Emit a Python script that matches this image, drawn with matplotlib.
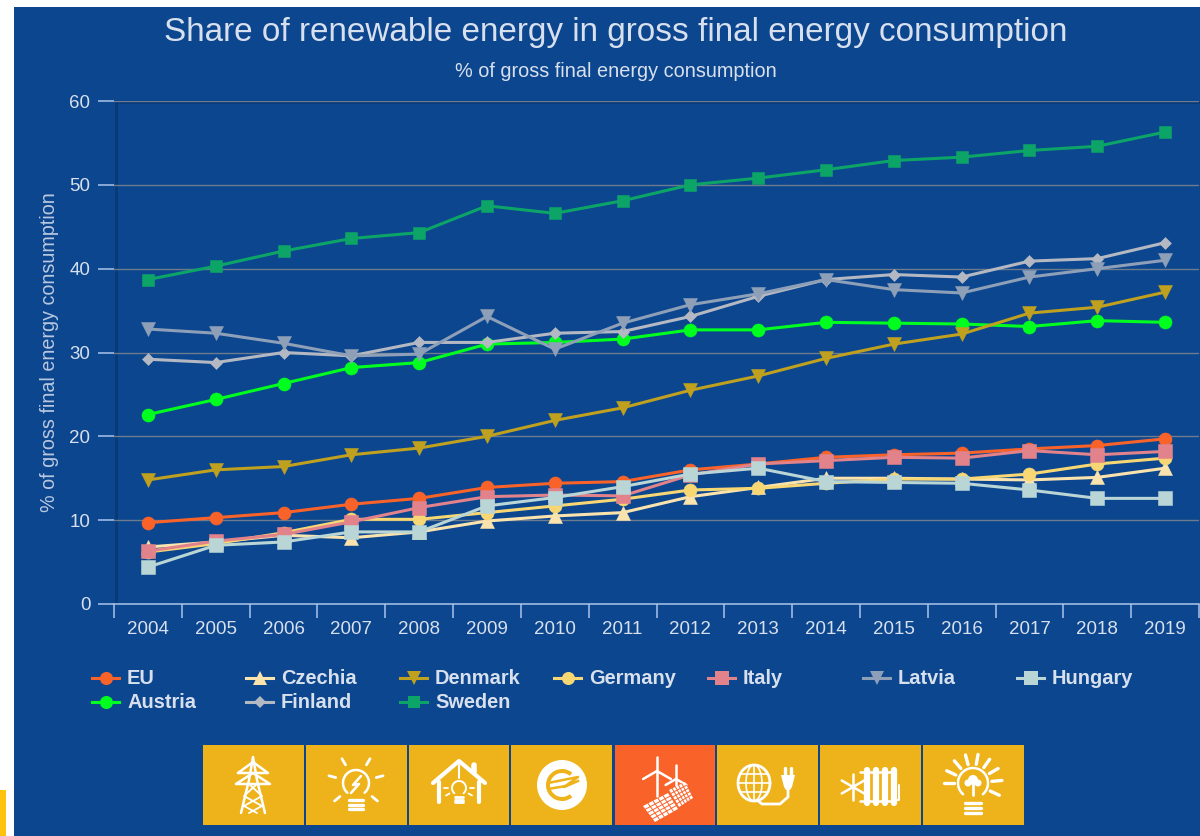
import numpy as np
import matplotlib
matplotlib.use('Agg')
import matplotlib.pyplot as plt
from matplotlib.lines import Line2D
from matplotlib.patches import Rectangle, Circle, Polygon, Wedge

plt.rcParams['font.family'] = ['Liberation Sans', 'DejaVu Sans']

years = list(range(2004, 2020))
eu = [9.7, 10.3, 10.9, 11.9, 12.6, 13.9, 14.4, 14.6, 16.0, 16.7, 17.5, 17.8, 18.0, 18.5, 18.9, 19.7]
austria = [22.6, 24.4, 26.3, 28.2, 28.8, 31.0, 31.2, 31.6, 32.7, 32.7, 33.6, 33.5, 33.4, 33.1, 33.8, 33.6]
czechia = [6.8, 7.4, 8.2, 7.9, 8.6, 9.9, 10.5, 10.9, 12.8, 13.9, 15.0, 15.0, 14.9, 14.8, 15.1, 16.2]
finland = [29.2, 28.8, 30.0, 29.6, 31.2, 31.2, 32.3, 32.5, 34.3, 36.7, 38.7, 39.3, 39.0, 40.9, 41.2, 43.1]
denmark = [14.8, 16.0, 16.4, 17.8, 18.6, 20.0, 21.9, 23.4, 25.5, 27.2, 29.3, 31.0, 32.2, 34.7, 35.4, 37.2]
sweden = [38.7, 40.3, 42.1, 43.6, 44.3, 47.5, 46.6, 48.1, 50.0, 50.8, 51.8, 52.9, 53.3, 54.1, 54.6, 56.3]
germany = [6.2, 7.2, 8.5, 10.1, 10.1, 10.9, 11.7, 12.5, 13.6, 13.8, 14.4, 14.9, 14.9, 15.5, 16.7, 17.4]
italy = [6.3, 7.5, 8.3, 9.8, 11.5, 12.8, 13.0, 12.9, 15.4, 16.7, 17.1, 17.5, 17.4, 18.3, 17.8, 18.2]
latvia = [32.8, 32.3, 31.1, 29.6, 29.8, 34.3, 30.4, 33.5, 35.7, 37.0, 38.7, 37.5, 37.1, 39.0, 40.0, 41.0]
hungary = [4.4, 7.0, 7.4, 8.6, 8.6, 11.7, 12.7, 14.0, 15.5, 16.2, 14.6, 14.5, 14.4, 13.6, 12.6, 12.6]

# name, values, colour, marker, marker size, legend column, legend row
series = [
    ('EU', eu, '#F9632A', 'o', 9.4, 0, 0),
    ('Austria', austria, '#00FF1E', 'o', 9.4, 0, 1),
    ('Czechia', czechia, '#FBE3AE', '^', 10, 1, 0),
    ('Finland', finland, '#B4B8C2', 'D', 6.4, 1, 1),
    ('Denmark', denmark, '#BFA01F', 'v', 10, 2, 0),
    ('Sweden', sweden, '#0CA567', 's', 8.8, 2, 1),
    ('Germany', germany, '#F7D774', 'o', 9.4, 3, 0),
    ('Italy', italy, '#E2828A', 's', 9.6, 4, 0),
    ('Latvia', latvia, '#8E9FB8', 'v', 10, 5, 0),
    ('Hungary', hungary, '#BAD5D5', 's', 9.6, 6, 0),
]

W, H = 1200, 836
BLUE = '#0B468F'
TEXT = '#D8E0ED'
TICK = '#A9C4EA'

fig = plt.figure(figsize=(W / 100, H / 100), dpi=100, facecolor='white')

# pixel canvas for background, legend and icons
bg = fig.add_axes([0, 0, 1, 1], zorder=0)
bg.set_xlim(0, W)
bg.set_ylim(H, 0)
bg.axis('off')
bg.add_patch(Rectangle((14, 7), W - 14, H - 7, fc=BLUE, ec='none'))
bg.add_patch(Rectangle((0, 790), 6, 46, fc='#FFC20E', ec='none'))

ax = fig.add_axes([114 / W, 1 - 604 / H, 1085 / W, 503 / H], zorder=1)
ax.patch.set_alpha(0)
x = np.arange(len(years))
for name, vals, col, mk, ms, c, r in series:
    ax.plot(x, vals, color=col, lw=2.2, marker=mk, ms=ms, mec=col, mew=0.4, clip_on=False, zorder=3)

ax.set_xlim(-0.5, len(years) - 0.5)
ax.set_ylim(0, 60)
ax.set_yticks([0, 10, 20, 30, 40, 50, 60])
ax.set_xticks(x)
ax.set_xticklabels(years)
ax.set_xticks(np.arange(-0.5, len(years)), minor=True)
ax.grid(axis='y', color='#6C7C8E', lw=1.0, zorder=1)
ax.set_axisbelow(True)
ax.tick_params(axis='y', colors=TEXT, labelsize=13.5, length=11.5, width=1.1, color=TICK, pad=5.5)
ax.tick_params(axis='x', which='major', length=0, colors=TEXT, labelsize=13.5, pad=12.5)
ax.tick_params(axis='x', which='minor', length=10, width=1.1, color=TICK)
for s in ['top', 'right', 'left']:
    ax.spines[s].set_visible(False)
ax.spines['bottom'].set_color(TICK)
ax.spines['bottom'].set_linewidth(1.1)
ax.set_ylabel('% of gross final energy consumption', color='#B9C8DF', fontsize=14.2)
ax.yaxis.set_label_coords(-0.0505, 0.5)

# soft shadow along the plot frame
bg.plot([116, 116], [102, 603], color='#08356F', lw=2, alpha=0.8)
bg.plot([116, W], [102.5, 102.5], color='#08356F', lw=1.2, alpha=0.8)

fig.text(616 / W, 1 - 32 / H, 'Share of renewable energy in gross final energy consumption',
         color=TEXT, fontsize=23.95, ha='center', va='center')
fig.text(616 / W, 1 - 71.5 / H, '% of gross final energy consumption',
         color=TEXT, fontsize=14.3, ha='center', va='center')

# legend
leg_x = [92, 246, 400, 554, 708, 863, 1017]
leg_y = [678, 702]
for name, vals, col, mk, ms, c, r in series:
    lx = leg_x[c]
    ly = leg_y[r]
    bg.add_line(Line2D([lx, lx + 27], [ly, ly], color=col, lw=2.2))
    bg.add_line(Line2D([lx + 13.5], [ly], color=col, marker=mk, ms=ms, mew=0))
    bg.text(lx + 35, ly + 1, name, color=TEXT, fontsize=14.4, fontweight='bold', va='center', ha='left')

# icon tiles
tiles = [(203, 304), (306, 407), (409, 509), (511, 612), (615, 715), (717, 818), (820, 921), (923, 1024)]
for i, (a, b) in enumerate(tiles):
    bg.add_patch(Rectangle((a, 745), b - a, 80, fc='#F9632A' if i == 4 else '#EEB31A', ec='none'))


def stroke(xs, ys, lw=1.8):
    bg.plot(xs, ys, color='white', lw=lw, solid_capstyle='round', solid_joinstyle='round')


def bulb(cx, cy, r, lw=1.8):
    th = np.linspace(-np.pi * 1.27, np.pi * 0.27, 50)
    stroke(cx + r * np.cos(th), cy + r * np.sin(th), lw)
    for k in range(3):
        stroke([cx - r * 0.55, cx + r * 0.55], [cy + r * (1.3 + k * 0.36)] * 2, lw + 0.6)


def rays(cx, cy, r0, r1, angles, lw=2.0):
    for d in angles:
        t = np.deg2rad(d)
        stroke([cx + r0 * np.cos(t), cx + r1 * np.cos(t)], [cy + r0 * np.sin(t), cy + r1 * np.sin(t)], lw)


# pylon
cx = 253
stroke([cx - 12, cx - 4, cx, cx + 4, cx + 12], [813, 780, 757, 780, 813])
stroke([cx - 15, cx, cx + 15, cx - 15], [773, 762, 773, 773])
stroke([cx - 17, cx, cx + 17, cx - 17], [784, 773, 784, 784])
stroke([cx - 4, cx + 9, cx - 9, cx + 4], [784, 796, 806, 813], 1.3)
stroke([cx + 4, cx - 9, cx + 9, cx - 4], [784, 796, 806, 813], 1.3)

# bulb with spark
cx = 356
bulb(cx, 783, 13)
stroke([cx + 5, cx - 3, cx + 3, cx - 5], [776, 785, 784, 793], 1.8)
rays(cx, 783, 21, 28, [-120, -60, -165, -15, 140, 40])

# house with bulb
cx = 459
stroke([cx - 26, cx, cx + 26], [783, 761, 783], 3)
stroke([cx - 20, cx - 20], [782, 802], 3)
stroke([cx + 20, cx + 20], [782, 802], 3)
stroke([cx + 15, cx + 15], [765, 772], 4)
stroke([cx, cx], [765, 778], 1.5)
bulb(cx, 788, 7, 1.4)
rays(cx, 788, 11, 15, [180, 0, 150, 30], 1.3)

# coin with euro sign and spark
cx = 562
bg.add_patch(Circle((cx, 785), 25, fc='white', ec='none'))
bg.add_patch(Wedge((cx, 785), 16, 50, 310, width=4, fc='#EEB31A', ec='none'))
bg.plot([cx - 14, cx + 16, cx + 2, cx + 16], [783, 777, 787, 781], color='#EEB31A', lw=1.8)
bg.plot([cx - 14, cx + 4], [789, 786], color='#EEB31A', lw=1.8)

# wind turbines and solar panels
for tx, ty, ln, hub_low in [(657, 771, 16, 796), (676, 779, 12, 795)]:
    stroke([tx, tx], [ty - 14, hub_low], 1.8)
    rays(tx, ty, 0, ln, [30, 150], 1.8)
for pts in ([[643, 806], [668, 793], [678, 809], [655, 822]], [[669, 790], [685, 782], [693, 798], [679, 807]]):
    p = np.array(pts, float)
    bg.add_patch(Polygon(p, fc='white', ec='none'))
    for t in np.linspace(0.2, 0.8, 4):
        a, b = p[0] + t * (p[1] - p[0]), p[3] + t * (p[2] - p[3])
        bg.plot([a[0], b[0]], [a[1], b[1]], color='#F9632A', lw=0.7)
        a, b = p[0] + t * (p[3] - p[0]), p[1] + t * (p[2] - p[1])
        bg.plot([a[0], b[0]], [a[1], b[1]], color='#F9632A', lw=0.7)

# globe with plug
cx = 754
th = np.linspace(0, 2 * np.pi, 60)
stroke(cx + 16 * np.cos(th), 783 + 18 * np.sin(th), 2)
stroke(cx + 8 * np.cos(th), 783 + 18 * np.sin(th), 1.2)
stroke([cx, cx], [765, 801], 1.2)
for dy, hw in [(-9, 14), (0, 16), (9, 14)]:
    stroke([cx - hw, cx + hw], [783 + dy] * 2, 1.2)
bg.add_patch(Polygon([[781, 775], [795, 775], [792, 787], [790, 790], [786, 790], [784, 787]], fc='white', ec='none'))
stroke([785, 785], [768, 775], 2.4)
stroke([791, 791], [768, 775], 2.4)
stroke([788, 788, 780, 762, 757], [790, 797, 804, 804, 800], 2)

# snowflake radiator
for k in range(4):
    stroke([867 + k * 9] * 2, [770, 803], 4.5)
stroke([860, 895], [772, 772], 1.8)
stroke([860, 895], [801, 801], 1.8)
rays(853, 787, 0, 13, [-90, -30, 30, 90, 150, 210], 1.8)
stroke([897, 899, 899], [800, 800, 785], 1.4)

# bulb with cloud and rays
cx = 973
bulb(cx, 783, 15)
bg.add_patch(Circle((cx, 780), 5, fc='white', ec='none'))
bg.add_patch(Circle((cx - 5, 783), 3.5, fc='white', ec='none'))
bg.add_patch(Circle((cx + 5, 783), 3.5, fc='white', ec='none'))
stroke([cx, cx], [783, 795], 2)
rays(cx, 783, 19, 29, [-130, -105, -80, -55, -30, -5, 25, 180, 205], 2.4)

fig.savefig('out.png', dpi=100, facecolor='white')
